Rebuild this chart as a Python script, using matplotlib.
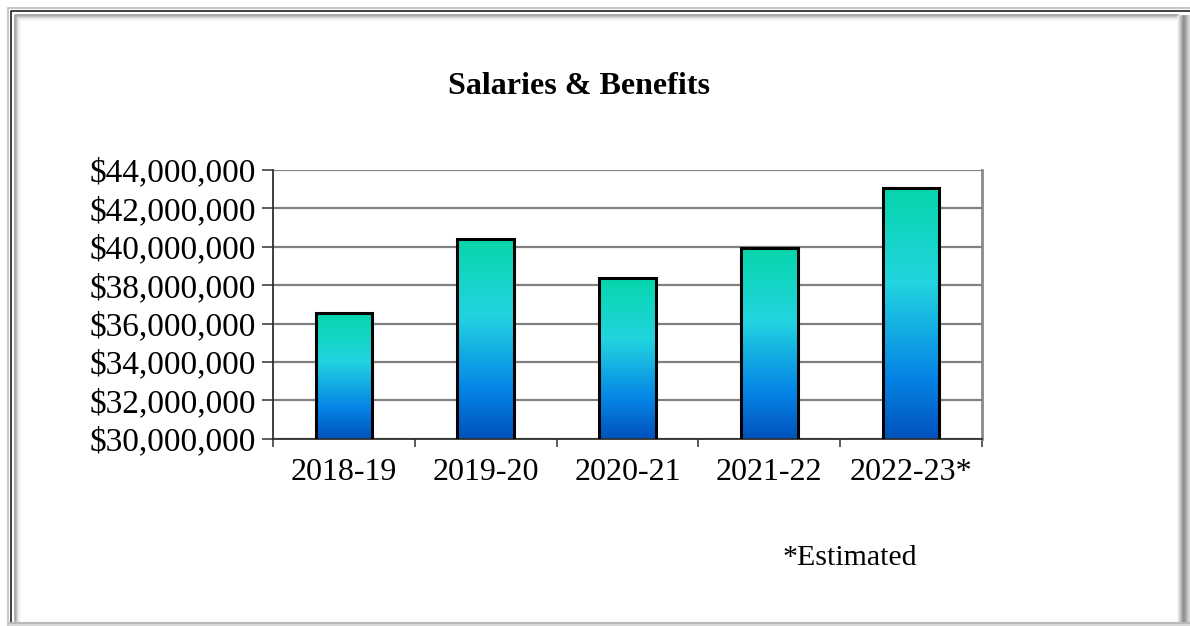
import numpy as np
import matplotlib.pyplot as plt
from matplotlib.colors import LinearSegmentedColormap
from matplotlib.ticker import FuncFormatter

years = ['2018-19', '2019-20', '2020-21', '2021-22', '2022-23*']
salaries = [36530000, 40380000, 38370000, 39920000, 43060000]
y_ticks = [30000000, 32000000, 34000000, 36000000, 38000000, 40000000, 42000000, 44000000]

plt.rcParams['font.family'] = ['Liberation Serif', 'DejaVu Serif']

W, H = 1190, 626
fig = plt.figure(figsize=(W / 100, H / 100), dpi=100)
fig.patch.set_facecolor('white')

# frame around the chart (pixel coords)
frame = fig.add_axes([0, 0, 1, 1], zorder=-1)
frame.set_xlim(0, W)
frame.set_ylim(H, 0)
frame.axis('off')
frame.plot([7.5, 7.5, W], [H, 7.5, 7.5], color='#c8c8c8', lw=1.5)
frame.plot([10.5, 10.5, W], [H, 10.5, 10.5], color='#202020', lw=1.2)
for i, g in enumerate(['#9a9a9a', '#a8a8a8', '#c0c0c0', '#d8d8d8', '#ececec', '#f6f6f6']):
    off = 15 + i
    frame.plot([off, off, W - 12], [621, off, off], color=g, lw=1.1)
for i, g in enumerate(['#f4f4f4', '#e4e4e4', '#d0d0d0', '#bcbcbc', '#a8a8a8', '#949494',
                       '#888888', '#909090', '#a0a0a0', '#b0b0b0', '#c0c0c0', '#d0d0d0']):
    x = 1178 + i
    frame.plot([x, x], [off - 4, H], color=g, lw=1.1)
frame.plot([10, W], [622.5, 622.5], color='#b8b8b8', lw=1.5)
frame.plot([10, W], [625, 625], color='#d8d8d8', lw=1.5)

ax = fig.add_axes([273 / W, 1 - 438.7 / H, (982 - 273) / W, (438.7 - 170) / H])
x = np.arange(len(years))
bars = ax.bar(x, salaries, width=0.4, color='none', edgecolor='black', linewidth=2.2, zorder=3)

# gradient fill for each bar
cmap = LinearSegmentedColormap.from_list(
    'bars', [(0.0, '#0052bc'), (0.25, '#0585e6'), (0.62, '#22d4e0'), (1.0, '#06d6ab')])
grad = np.linspace(0, 1, 256).reshape(-1, 1)
for b in bars:
    bx, by = b.get_x(), b.get_y()
    im = ax.imshow(grad, cmap=cmap, aspect='auto', origin='lower',
                   extent=[bx, bx + b.get_width(), 30000000, b.get_height()], zorder=2)
    im.set_clip_path(b)

ax.set_xlim(-0.5, len(years) - 0.5)
ax.set_ylim(30000000, 44000000)
ax.set_yticks(y_ticks)
ax.yaxis.set_major_formatter(FuncFormatter(lambda v, p: '${:,.0f}'.format(v)))
ax.set_xticks(x)
ax.set_xticklabels(years)
ax.set_xticks(np.arange(len(years) + 1) - 0.5, minor=True)
ax.tick_params(axis='x', which='major', length=0, pad=14, labelsize=23)
ax.tick_params(axis='x', which='minor', length=6, width=1.2, color='#404040')
ax.tick_params(axis='y', length=8, width=1.2, pad=4, labelsize=24, color='#404040')

ax.grid(axis='y', color='#808080', lw=1.6, zorder=1)
ax.set_axisbelow(True)
for s in ['top', 'right']:
    ax.spines[s].set_color('#8a8a8a')
    ax.spines[s].set_linewidth(2)
ax.spines['top'].set_visible(False)
ax.spines['left'].set_color('#303030')
ax.spines['left'].set_linewidth(1.3)
ax.spines['bottom'].set_color('#303030')
ax.spines['bottom'].set_linewidth(1.3)

fig.text(579 / W, 1 - 87 / H, 'Salaries & Benefits', ha='center', va='center',
         fontsize=23, fontweight='bold')
fig.text(850 / W, 1 - 558 / H, '*Estimated', ha='center', va='center', fontsize=21.5)

fig.savefig('out.png', dpi=100)
